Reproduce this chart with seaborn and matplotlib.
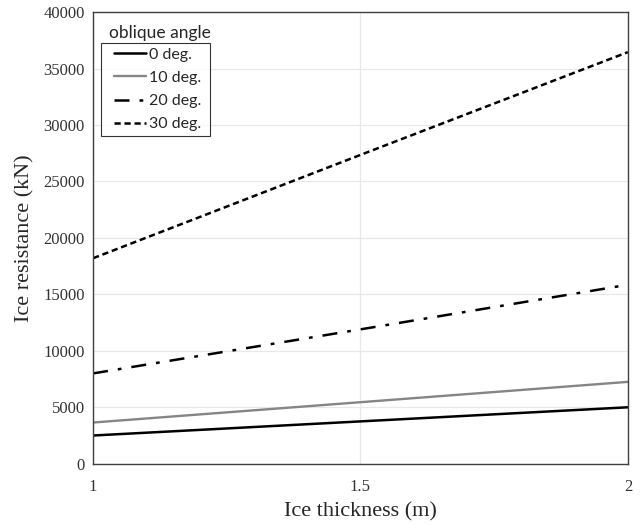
import pandas as pd
import matplotlib
matplotlib.use("Agg")
import matplotlib.pyplot as plt
from matplotlib.legend_handler import HandlerLine2D
import seaborn as sns

# data
thickness = [1.0, 1.5, 2.0]
angles = ["0 deg.", "10 deg.", "20 deg.", "30 deg."]
res_0 = [2500, 3750, 5000]
res_10 = [3650, 5450, 7250]
res_20 = [8000, 11900, 15850]
res_30 = [18200, 27350, 36450]

df = pd.DataFrame({
    "thickness": thickness * 4,
    "resistance": res_0 + res_10 + res_20 + res_30,
    "angle": [a for a in angles for _ in thickness],
})

sns.set_theme(style="white")
plt.rcParams["font.family"] = ["Liberation Serif", "DejaVu Serif"]

fig = plt.figure(figsize=(6.42, 5.24), dpi=100)
ax = fig.add_axes([0.145, 0.115, 0.833, 0.862])

styles = {
    "0 deg.": dict(color="black", lw=1.8, ls="-"),
    "10 deg.": dict(color="#858585", lw=1.7, ls="-"),
    "20 deg.": dict(color="black", lw=1.8, ls=(0, (6, 4, 1.5, 4))),
    "30 deg.": dict(color="black", lw=1.8, ls=(0, (2.5, 1.5))),
}
for a in angles:
    s = styles[a]
    sns.lineplot(data=df[df["angle"] == a], x="thickness", y="resistance",
                 ax=ax, color=s["color"], linewidth=s["lw"], linestyle=s["ls"],
                 label=a)

ax.set_xlim(1, 2)
ax.set_ylim(0, 40000)
ax.set_xticks([1, 1.5, 2])
ax.set_xticklabels(["1", "1.5", "2"])
ax.set_yticks(range(0, 40001, 5000))
ax.grid(True, color="#e8e8e8", linewidth=0.9)
ax.tick_params(direction="in", length=4, width=0.8, colors="black",
               labelsize=12, labelcolor="#333333", pad=6)
ax.tick_params(axis="x", pad=11)
for sp in ax.spines.values():
    sp.set_color("#404040")
    sp.set_linewidth(1.0)

ax.set_xlabel("Ice thickness (m)", fontsize=16, labelpad=5)
ax.set_ylabel("Ice resistance (kN)", fontsize=16, labelpad=6)

handles, labels = ax.get_legend_handles_labels()
leg = ax.legend(handles, [l + " " for l in labels],
                loc="upper left", bbox_to_anchor=(0.0145, 0.9315),
                frameon=True, fancybox=False, handlelength=2.55,
                handletextpad=0.15, borderpad=0.3, labelspacing=0.56,
                borderaxespad=0,
                handler_map={h: HandlerLine2D(xpad=0.55) for h in handles},
                prop={"family": "Lato", "size": 11.5})
leg.get_frame().set_edgecolor("black")
leg.get_frame().set_linewidth(0.8)
ax.text(0.03, 0.937, "oblique angle", transform=ax.transAxes,
        fontsize=12.5, family="Lato", va="bottom", ha="left")

fig.savefig("out.png", dpi=100)
